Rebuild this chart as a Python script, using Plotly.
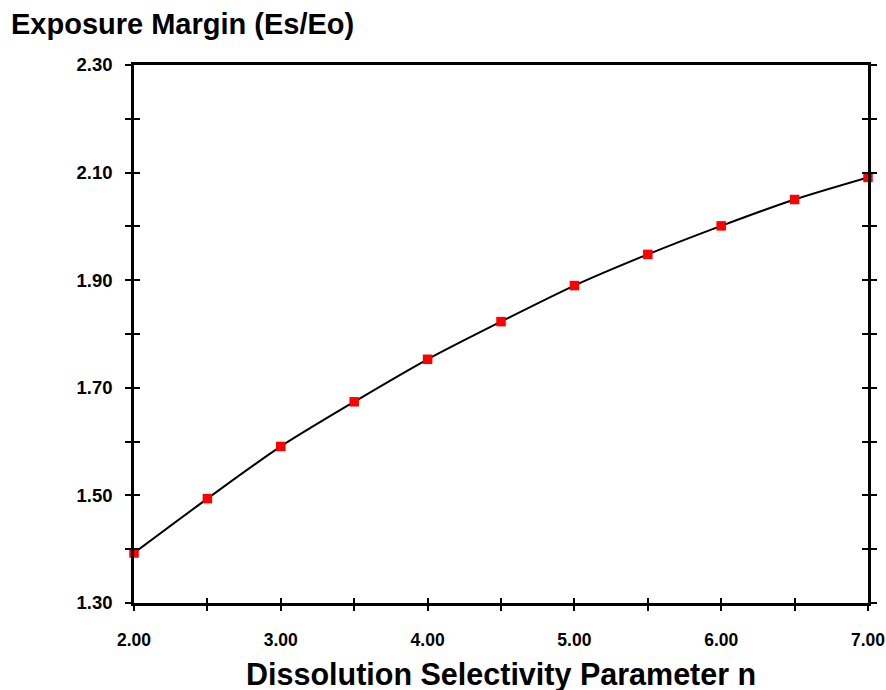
import plotly.graph_objects as go

n_values = [2.0, 2.5, 3.0, 3.5, 4.0, 4.5, 5.0, 5.5, 6.0, 6.5, 7.0]
margin_values = [1.393, 1.494, 1.591, 1.674, 1.753, 1.823, 1.890, 1.948, 2.001, 2.050, 2.091]

title_text = "Exposure Margin (Es/Eo)"
x_title_text = "Dissolution Selectivity Parameter n"

FONT = "Liberation Sans, Arial, sans-serif"

fig = go.Figure()
fig.add_trace(go.Scatter(
    x=n_values, y=margin_values, mode="lines",
    line=dict(color="black", width=2, shape="spline", smoothing=0.8),
    showlegend=False, hoverinfo="skip", cliponaxis=False,
))
fig.add_trace(go.Scatter(
    x=n_values, y=margin_values, mode="markers",
    marker=dict(symbol="square", size=9.5, color="#ff0000", line=dict(width=0)),
    showlegend=False, cliponaxis=False,
))

xtickfont = dict(family=FONT, size=17.5, color="black", weight="bold")
ytickfont = dict(family=FONT, size=18.5, color="black", weight="bold")

fig.update_layout(
    width=886, height=690,
    margin=dict(l=134, r=18, t=65, b=87),
    paper_bgcolor="white", plot_bgcolor="white",
    title=dict(text=title_text, x=11/886, xanchor="left", xref="container",
               y=1-24/690, yanchor="middle", yref="container",
               font=dict(family=FONT, size=29, color="black", weight="bold")),
    xaxis=dict(
        range=[2, 7], tick0=2, dtick=1, tickformat=".2f", automargin=False,
        showline=True, linecolor="black", linewidth=2.5, mirror=True,
        ticks="outside", ticklen=5, tickwidth=1.5, tickcolor="black",
        minor=dict(dtick=0.5, ticks="outside", ticklen=5, tickwidth=1.5, tickcolor="black", showgrid=False),
        showgrid=False, zeroline=False, tickfont=xtickfont, ticklabelstandoff=14,
        ticklabeloverflow="allow",
    ),
    xaxis2=dict(
        range=[2, 7], tick0=2, dtick=1, overlaying="x", anchor="y", side="bottom",
        showline=False, ticks="inside", ticklen=5, tickwidth=1.5, tickcolor="black",
        minor=dict(dtick=0.5, ticks="inside", ticklen=5, tickwidth=1.5, tickcolor="black", showgrid=False),
        showgrid=False, zeroline=False, showticklabels=False, automargin=False,
    ),
    yaxis=dict(
        range=[1.3, 2.3], tick0=1.3, dtick=0.2, tickformat=".2f", automargin=False,
        showline=True, linecolor="black", linewidth=2.5, mirror="allticks",
        ticks="outside", ticklen=6, tickwidth=1.5, tickcolor="black",
        minor=dict(dtick=0.1, ticks="outside", ticklen=6, tickwidth=1.5, tickcolor="black", showgrid=False),
        showgrid=False, zeroline=False, tickfont=ytickfont, ticklabelstandoff=9,
        ticklabeloverflow="allow",
    ),
    yaxis2=dict(
        range=[1.3, 2.3], tick0=1.3, dtick=0.2, overlaying="y", anchor="x", side="left",
        mirror="allticks", showline=False, automargin=False,
        ticks="inside", ticklen=6, tickwidth=1.5, tickcolor="black",
        minor=dict(dtick=0.1, ticks="inside", ticklen=6, tickwidth=1.5, tickcolor="black", showgrid=False),
        showgrid=False, zeroline=False, showticklabels=False,
    ),
    annotations=[dict(
        text=x_title_text, xref="paper", yref="paper", x=0.5, y=(603-674.5)/538,
        xanchor="center", yanchor="middle", showarrow=False,
        font=dict(family=FONT, size=30.5, color="black", weight="bold"),
    )],
)

# invisible trace to activate overlay axes
fig.add_trace(go.Scatter(x=[n_values[0]], y=[margin_values[0]], xaxis="x2", yaxis="y2",
                         mode="markers", marker=dict(opacity=0), showlegend=False, hoverinfo="skip"))

fig.write_html("out.html")
